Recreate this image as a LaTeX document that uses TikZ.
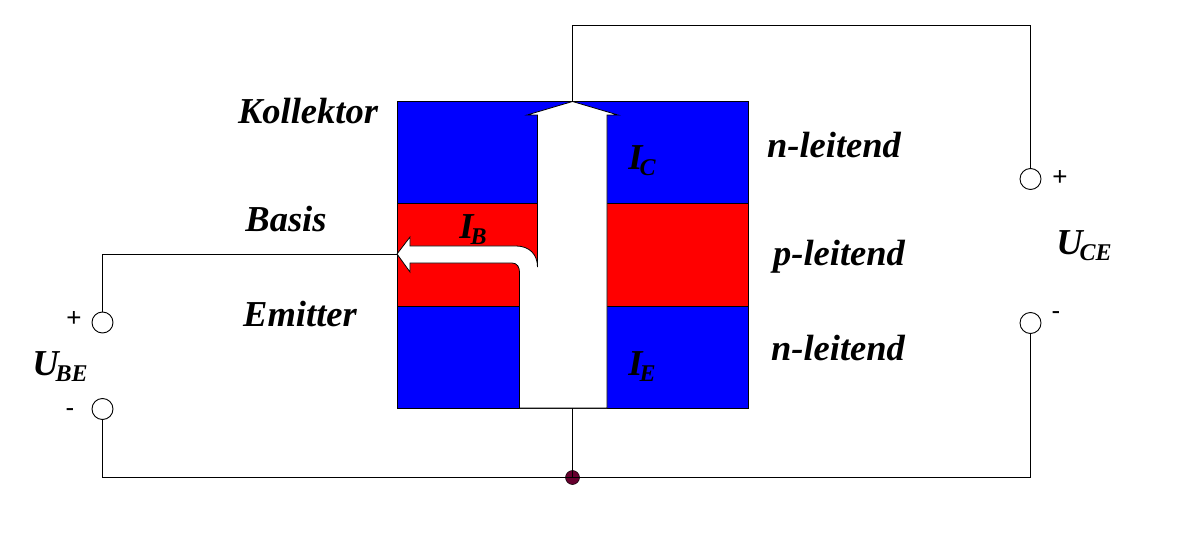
\documentclass[tikz,border=0pt]{standalone}
\usepackage{fontspec}
\setmainfont{Liberation Serif}
\setsansfont{Liberation Sans}
\usetikzlibrary{positioning}
\tikzstyle{layer}=[rectangle, draw=black, line width=1pt, minimum width=351, minimum height=102.3, inner sep=0pt, outer sep=0pt]
\tikzstyle{terminal}=[circle, draw=black, line width=0.9pt, fill=white, minimum size=21, inner sep=0pt, outer sep=0pt,
        path picture={\fill (path picture bounding box.center) circle (0.7);}]
\tikzstyle{wire}=[draw=black, line width=1pt]
\tikzstyle{caption}=[inner sep=0pt, font=\fontsize{36.5}{36.5}\selectfont\bfseries\itshape]
\tikzstyle{sign}=[inner sep=0pt, font=\fontsize{26}{26}\selectfont\sffamily]
\newcommand{\symb}[2]{#1\kern-3pt\raisebox{-6pt}{\fontsize{24}{24}\selectfont #2}}

\begin{document}
\begin{tikzpicture}[x=1pt, y=-1pt, node distance=0pt]
        \useasboundingbox (0,0) rectangle (1178,540);
        \node (Kollektor) [layer, fill=blue, anchor=north west] at (397,101.5) {};
        \node (Basis) [layer, fill=red, below=of Kollektor] {};
        \node (Emitter) [layer, fill=blue, below=of Basis] {};

        % Stromfluss
        \draw[black, line width=0.8pt, fill=white] (572.5,101.5) -- (618,115) -- (607,115) -- (607,408) -- (519.5,408)
          -- (519.5,272) .. controls (519.5,267) and (517,263) .. (512,263) -- (410,263) -- (410,272) -- (397,254)
          -- (410,237) -- (410,246) -- (516,246) .. controls (529,246) and (537.5,254) .. (537.5,267)
          -- (537.5,115) -- (527,115) -- cycle;

        \node (UbePlus) [terminal] at (102.5,322.5) {};
        \node (UbeMinus) [terminal] at (102.5,409) {};
        \node (UcePlus) [terminal] at (1030.5,179) {};
        \node (UceMinus) [terminal] at (1030.5,323) {};
        \node (Mass) [circle, draw=black, fill=black!70!blue!60!red, line width=0.5pt, minimum size=14, inner sep=0pt, outer sep=0pt] at (572.5,477.5) {};

        \draw[wire] (UbePlus.north) |- ([yshift=0.45pt]Basis.west);
        \draw[wire] (UbeMinus.south) |- (Mass.center);
        \draw[wire] (UceMinus.south) |- (Mass.center);
        \draw[wire] (Emitter.south) -- (Mass.center);
        \draw[wire] (Kollektor.north) -- (572.5,25.5) -| (UcePlus.north);

        \node (LblKollektor) [caption] at (308,111) {Kollektor};
        \node (LblBasis) [caption] at (286,219) {Basis};
        \node (LblEmitter) [caption] at (300,314) {Emitter};
        \node (LblTop) [caption] at (834,145) {n-leitend};
        \node (LblMid) [caption] at (839,257) {p-leitend};
        \node (LblBottom) [caption] at (838,348) {n-leitend};
        \node (IC) [caption] at (642,161) {\symb{I}{C}};
        \node (IB) [caption] at (473,230) {\symb{I}{B}};
        \node (IE) [caption] at (642,367) {\symb{I}{E}};
        \node (UBE) [caption] at (60,367) {\symb{U}{BE}};
        \node (UCE) [caption] at (1084,246) {\symb{U}{CE}};
        \node (SignBePlus) [sign] at (74,319) {+};
        \node (SignBeMinus) [sign] at (70,413) {-};
        \node (SignCePlus) [sign] at (1060,178) {+};
        \node (SignCeMinus) [sign] at (1056,316) {-};
      \end{tikzpicture}
\end{document}
